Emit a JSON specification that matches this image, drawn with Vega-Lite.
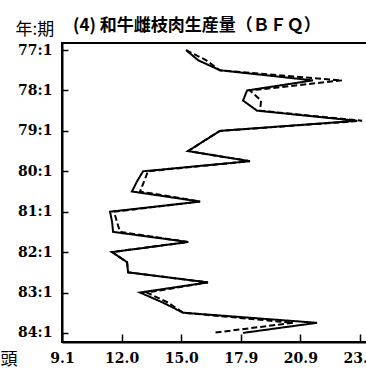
{
  "$schema": "https://vega.github.io/schema/vega-lite/v6.json",
  "width": 305,
  "height": 299,
  "autosize": {"type": "none"},
  "padding": {"left": 62, "top": 43, "right": 0, "bottom": 27},
  "background": "white",
  "title": {
    "text": "(4) 和牛雌枝肉生産量（ＢＦＱ）",
    "anchor": "start",
    "frame": "group",
    "dx": 11,
    "dy": 15,
    "offset": 0,
    "font": "Noto Sans CJK JP",
    "fontSize": 17,
    "fontWeight": "bold",
    "color": "black"
  },
  "config": {
    "view": {"stroke": "black", "strokeWidth": 2},
    "axis": {
      "grid": false,
      "domainColor": "black",
      "domainWidth": 2,
      "tickColor": "black",
      "tickWidth": 1.5,
      "labelFont": "DejaVu Serif",
      "labelFontWeight": "bold",
      "labelFontSize": 14,
      "labelColor": "black",
      "titleFont": "Noto Sans CJK JP",
      "titleFontSize": 17,
      "titleFontWeight": "normal",
      "titleColor": "black"
    }
  },
  "data": {
    "values": [
      {"t": 0, "s": "a", "v": 15.22}, {"t": 1, "s": "a", "v": 15.81}, {"t": 2, "s": "a", "v": 16.89}, {"t": 3, "s": "a", "v": 21.48},
      {"t": 4, "s": "a", "v": 18.23}, {"t": 5, "s": "a", "v": 18.03}, {"t": 6, "s": "a", "v": 18.72}, {"t": 7, "s": "a", "v": 23.65},
      {"t": 8, "s": "a", "v": 16.89}, {"t": 9, "s": "a", "v": 16.10}, {"t": 10, "s": "a", "v": 15.32}, {"t": 11, "s": "a", "v": 18.37},
      {"t": 12, "s": "a", "v": 13.10}, {"t": 13, "s": "a", "v": 12.80}, {"t": 14, "s": "a", "v": 12.55}, {"t": 15, "s": "a", "v": 15.91},
      {"t": 16, "s": "a", "v": 11.47}, {"t": 17, "s": "a", "v": 11.57}, {"t": 18, "s": "a", "v": 11.62}, {"t": 19, "s": "a", "v": 15.32},
      {"t": 20, "s": "a", "v": 11.57}, {"t": 21, "s": "a", "v": 12.31}, {"t": 22, "s": "a", "v": 12.36}, {"t": 23, "s": "a", "v": 16.30},
      {"t": 24, "s": "a", "v": 12.95}, {"t": 25, "s": "a", "v": 14.08}, {"t": 26, "s": "a", "v": 15.07}, {"t": 27, "s": "a", "v": 21.68},
      {"t": 28, "s": "a", "v": 18.03},
      {"t": 0, "s": "b", "v": 15.22}, {"t": 1, "s": "b", "v": 16.20}, {"t": 2, "s": "b", "v": 16.89}, {"t": 3, "s": "b", "v": 22.91},
      {"t": 4, "s": "b", "v": 18.37}, {"t": 5, "s": "b", "v": 18.92}, {"t": 6, "s": "b", "v": 18.87}, {"t": 7, "s": "b", "v": 23.90},
      {"t": 8, "s": "b", "v": 16.89}, {"t": 9, "s": "b", "v": 16.10}, {"t": 10, "s": "b", "v": 15.32}, {"t": 11, "s": "b", "v": 18.37},
      {"t": 12, "s": "b", "v": 13.34}, {"t": 13, "s": "b", "v": 13.15}, {"t": 14, "s": "b", "v": 12.95}, {"t": 15, "s": "b", "v": 15.91},
      {"t": 16, "s": "b", "v": 11.67}, {"t": 17, "s": "b", "v": 11.81}, {"t": 18, "s": "b", "v": 11.96}, {"t": 19, "s": "b", "v": 15.32},
      {"t": 20, "s": "b", "v": 11.57}, {"t": 21, "s": "b", "v": 12.31}, {"t": 22, "s": "b", "v": 12.36}, {"t": 23, "s": "b", "v": 16.30},
      {"t": 24, "s": "b", "v": 13.29}, {"t": 25, "s": "b", "v": 14.33}, {"t": 26, "s": "b", "v": 15.07}, {"t": 27, "s": "b", "v": 20.50},
      {"t": 28, "s": "b", "v": 16.55}
    ]
  },
  "mark": {"type": "line", "strokeWidth": 2, "color": "black", "clip": true},
  "encoding": {
    "x": {
      "field": "v",
      "type": "quantitative",
      "scale": {"domain": [9.1, 24.145], "nice": false, "zero": false},
      "axis": {
        "values": [9.1, 12.04, 14.98, 17.92, 20.86, 23.8],
        "format": ".1f",
        "tickSize": -8,
        "labelPadding": 17,
        "labelFlush": false,
        "labelOverlap": false,
        "title": "頭",
        "titleAlign": "left",
        "titleAnchor": null,
        "titleX": -62,
        "titleY": 22,
        "titleBaseline": "alphabetic"
      }
    },
    "y": {
      "field": "t",
      "type": "quantitative",
      "scale": {"domain": [-0.7, 28.9], "nice": false, "zero": false, "reverse": true},
      "axis": {
        "values": [0, 4, 8, 12, 16, 20, 24, 28],
        "labelExpr": "(77 + datum.value / 4) + ':1'",
        "tickSize": -6,
        "labelPadding": 16,
        "labelFlush": false,
        "labelOverlap": false,
        "title": "年:期",
        "titleAngle": 0,
        "titleAlign": "left",
        "titleAnchor": null,
        "titleX": -47,
        "titleY": -9,
        "titleBaseline": "alphabetic"
      }
    },
    "detail": {"field": "s"},
    "order": {"field": "t", "type": "quantitative"},
    "strokeDash": {
      "field": "s",
      "type": "nominal",
      "scale": {"domain": ["a", "b"], "range": [[1, 0], [6, 3]]},
      "legend": null
    }
  }
}
